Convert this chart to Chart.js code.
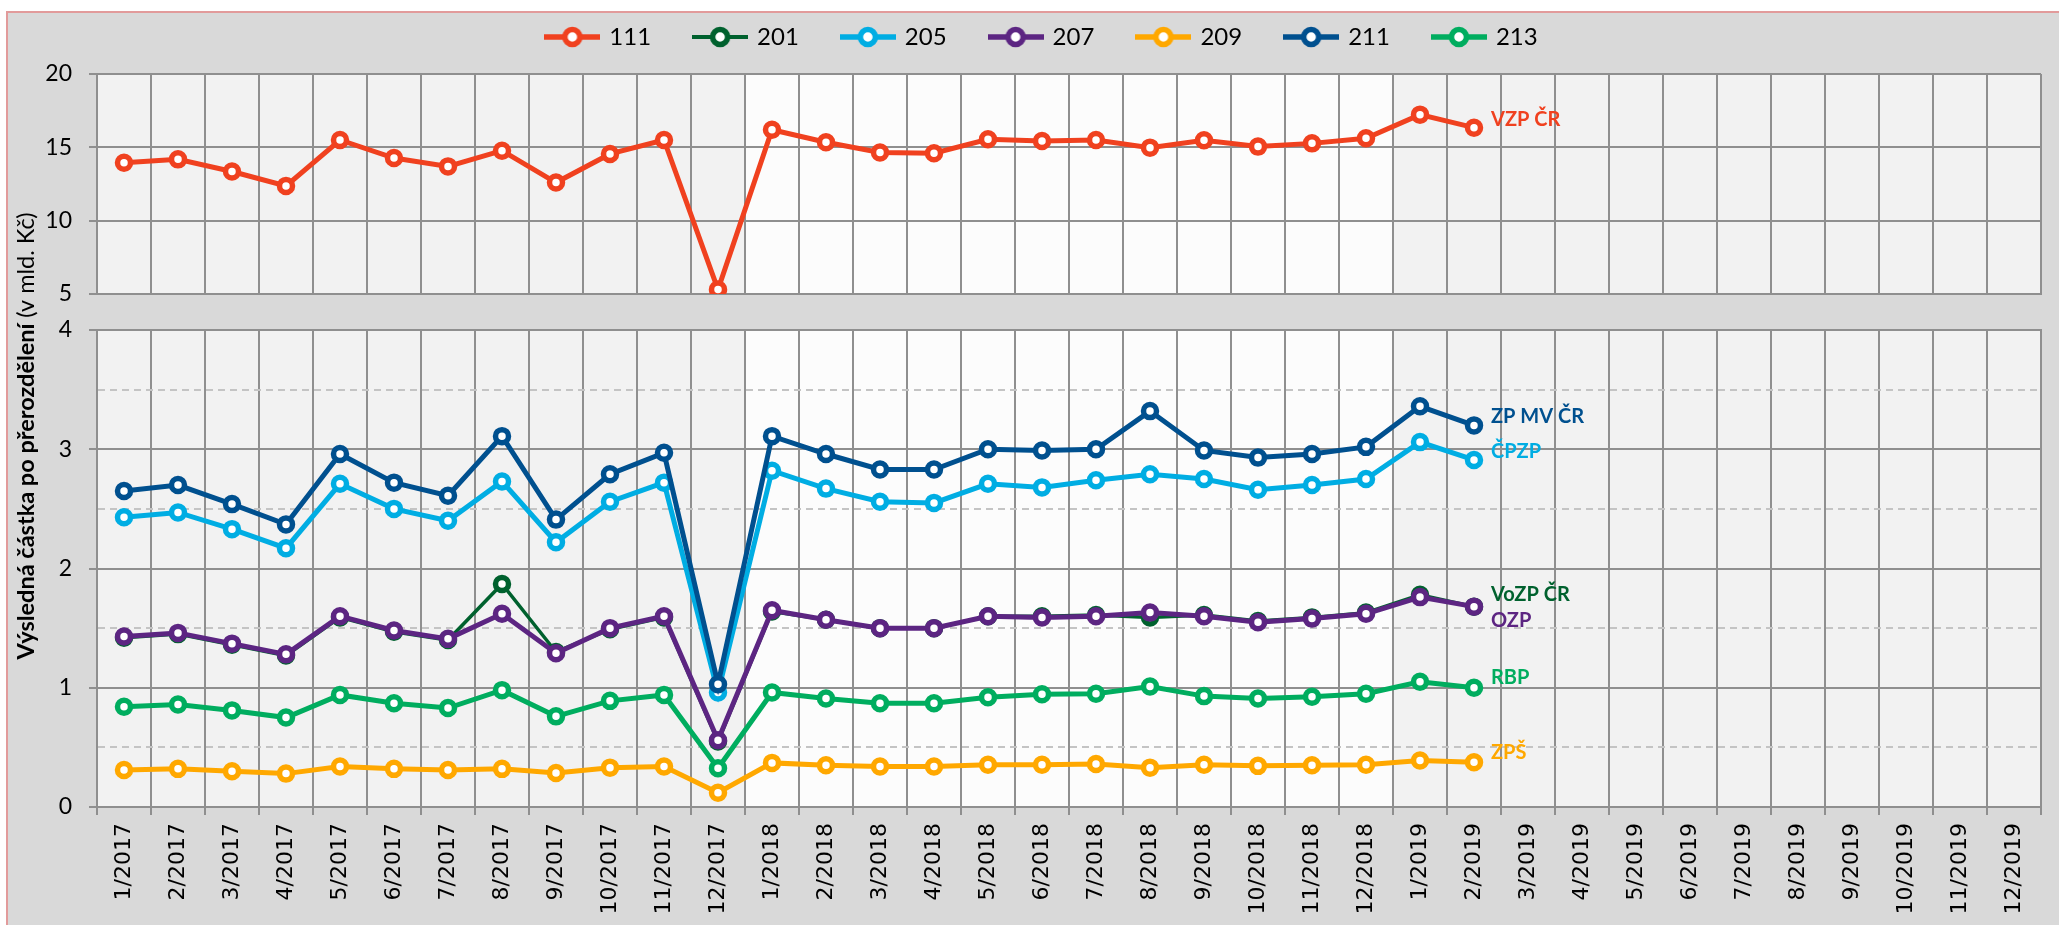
<!DOCTYPE html>
<html>
<head>
<meta charset="utf-8">
<script src="https://cdn.jsdelivr.net/npm/chart.js@4.4.1/dist/chart.umd.min.js"></script>
<style>
  html, body { margin: 0; padding: 0; background: #fff; }
  canvas { display: block; }
</style>
</head>
<body>
<canvas id="chart" width="2059" height="925"></canvas>
<script>
const months = ['1/2017', '2/2017', '3/2017', '4/2017', '5/2017', '6/2017', '7/2017', '8/2017', '9/2017', '10/2017', '11/2017', '12/2017',
                '1/2018', '2/2018', '3/2018', '4/2018', '5/2018', '6/2018', '7/2018', '8/2018', '9/2018', '10/2018', '11/2018', '12/2018',
                '1/2019', '2/2019', '3/2019', '4/2019', '5/2019', '6/2019', '7/2019', '8/2019', '9/2019', '10/2019', '11/2019', '12/2019'];

// values in bn CZK, Jan 2017 .. Feb 2019
const vzp111 = [13.95, 14.18, 13.35, 12.37, 15.5, 14.27, 13.7, 14.77, 12.6, 14.55, 15.5, 5.3,
                16.2, 15.35, 14.65, 14.6, 15.55, 15.43, 15.5, 14.98, 15.48, 15.05, 15.27, 15.62, 17.23, 16.34];
const vozp201 = [1.42, 1.45, 1.36, 1.27, 1.59, 1.47, 1.40, 1.87, 1.30, 1.49, 1.59, 0.55,
                 1.64, 1.57, 1.50, 1.50, 1.60, 1.60, 1.61, 1.59, 1.61, 1.56, 1.59, 1.63, 1.78, 1.68];
const cpzp205 = [2.43, 2.47, 2.33, 2.17, 2.71, 2.50, 2.40, 2.73, 2.22, 2.56, 2.72, 0.96,
                 2.82, 2.67, 2.56, 2.55, 2.71, 2.68, 2.74, 2.79, 2.75, 2.66, 2.70, 2.75, 3.06, 2.91];
const ozp207 = [1.43, 1.46, 1.37, 1.28, 1.60, 1.48, 1.41, 1.62, 1.29, 1.50, 1.60, 0.56,
                1.65, 1.57, 1.50, 1.50, 1.60, 1.59, 1.60, 1.63, 1.60, 1.55, 1.58, 1.62, 1.76, 1.68];
const zps209 = [0.31, 0.32, 0.30, 0.28, 0.34, 0.32, 0.31, 0.32, 0.285, 0.33, 0.34, 0.12,
                0.37, 0.35, 0.34, 0.34, 0.355, 0.355, 0.36, 0.33, 0.355, 0.345, 0.35, 0.355, 0.39, 0.375];
const zpmv211 = [2.65, 2.70, 2.54, 2.37, 2.96, 2.72, 2.61, 3.11, 2.41, 2.79, 2.97, 1.03,
                 3.11, 2.96, 2.83, 2.83, 3.00, 2.99, 3.00, 3.32, 2.99, 2.93, 2.96, 3.02, 3.36, 3.20];
const rbp213 = [0.84, 0.86, 0.81, 0.75, 0.94, 0.87, 0.83, 0.98, 0.76, 0.89, 0.94, 0.325,
                0.96, 0.91, 0.87, 0.87, 0.92, 0.945, 0.95, 1.01, 0.93, 0.91, 0.925, 0.95, 1.05, 1.00];

const codes = ['111', '201', '205', '207', '209', '211', '213'];
const names = ['VZP ČR', 'VoZP ČR', 'ČPZP', 'OZP', 'ZPŠ', 'ZP MV ČR', 'RBP'];

const gridGrey = '#8f8f8f';
const isHalf = c => c.tick && !Number.isInteger(c.tick.value);

function line(i, data, color, axis, width, dy) {
  return {
    label: codes[i],
    data: data,
    tag: names[i],
    tagDy: dy,
    yAxisID: axis,
    order: codes.length - i, // later series on top, like the original
    borderColor: color,
    backgroundColor: color,
    borderWidth: width,
    tension: 0,
    pointRadius: 6.5,
    pointHoverRadius: 6.5,
    pointBorderWidth: 5.5,
    pointBackgroundColor: '#ffffff',
    pointBorderColor: color
  };
}

function legendIcon(ds) {
  const c = document.createElement('canvas');
  c.width = 56; c.height = 24;
  const g = c.getContext('2d');
  g.strokeStyle = ds.borderColor;
  g.lineWidth = ds.borderWidth + 0.5;
  g.beginPath(); g.moveTo(0, 12); g.lineTo(56, 12); g.stroke();
  g.lineWidth = 5.5;
  g.fillStyle = '#fff';
  g.beginPath(); g.arc(28, 12, 7.5, 0, Math.PI * 2); g.fill(); g.stroke();
  return c;
}

const panels = {
  id: 'panels',
  beforeDraw(chart) {
    const {ctx, chartArea: a, scales: {x, yTop, yBot}} = chart;
    ctx.save();
    ctx.fillStyle = '#fff';
    ctx.fillRect(0, 0, chart.width, chart.height);
    ctx.fillStyle = '#d9d9d9';
    ctx.fillRect(6, 11, chart.width - 6, chart.height - 11);
    ctx.strokeStyle = '#e29b9b';
    ctx.lineWidth = 2;
    ctx.beginPath(); ctx.moveTo(7, chart.height); ctx.lineTo(7, 12); ctx.lineTo(chart.width, 12); ctx.stroke();
    // 2018 columns are lighter
    const half = (x.getPixelForValue(1) - x.getPixelForValue(0)) / 2;
    const x0 = x.getPixelForValue(12) - half, x1 = x.getPixelForValue(23) + half;
    [yTop, yBot].forEach(s => {
      ctx.fillStyle = '#f2f2f2';
      ctx.fillRect(a.left, s.top, a.right - a.left, s.bottom - s.top);
      ctx.fillStyle = '#fcfcfc';
      ctx.fillRect(x0, s.top, x1 - x0, s.bottom - s.top);
    });
    ctx.restore();
  },
  beforeDatasetsDraw(chart) {
    // gap between the two panels
    const {ctx, chartArea: a, scales: {yTop, yBot}} = chart;
    ctx.save();
    ctx.fillStyle = '#d9d9d9';
    ctx.fillRect(a.left - 1, yTop.bottom + 1, a.right - a.left + 2, yBot.top - yTop.bottom - 2);
    ctx.restore();
  }
};

const legendTweak = {
  id: 'legendTweak',
  afterInit(chart) {
    const lg = chart.legend, fit = lg.fit;
    lg.fit = function () { fit.call(this); this.height = 74; };
  },
  afterLayout(chart) {
    const lg = chart.legend;
    lg.top -= 19; lg.bottom -= 19;
    lg.left += 22; lg.right += 22;
  }
};

const endLabels = {
  id: 'endLabels',
  afterDatasetsDraw(chart) {
    const ctx = chart.ctx;
    ctx.save();
    ctx.font = 'bold 20px Lato';
    ctx.textBaseline = 'middle';
    chart.data.datasets.forEach((ds, i) => {
      const p = chart.getDatasetMeta(i).data[ds.data.length - 1];
      ctx.fillStyle = ds.borderColor;
      ctx.fillText(ds.tag, p.x + 17, p.y + ds.tagDy);
    });
    ctx.restore();
  }
};

const yTitle = {
  id: 'yTitle',
  afterDraw(chart) {
    const ctx = chart.ctx;
    const boldPart = 'Výsledná částka po přerozdělení ', normPart = '(v mld. Kč)';
    ctx.save();
    ctx.translate(26, 436);
    ctx.rotate(-Math.PI / 2);
    ctx.textBaseline = 'middle';
    ctx.fillStyle = '#000';
    ctx.font = 'bold 23.5px Lato';
    const w1 = ctx.measureText(boldPart).width;
    ctx.font = '23.5px Lato';
    const w2 = ctx.measureText(normPart).width;
    const x = -(w1 + w2) / 2;
    ctx.font = 'bold 23.5px Lato';
    ctx.fillText(boldPart, x, 0);
    ctx.font = '23.5px Lato';
    ctx.fillText(normPart, x + w1, 0);
    ctx.restore();
  }
};

const yTickFont = {family: 'Lato', size: 23};

const ctx = document.getElementById('chart').getContext('2d');
const chart = new Chart(ctx, {
  type: 'line',
  data: {
    labels: months,
    datasets: [
      line(0, vzp111, '#f0411f', 'yTop', 5, -8),
      line(1, vozp201, '#00612e', 'yBot', 3.5, -12),
      line(2, cpzp205, '#00ade3', 'yBot', 5, -8),
      line(3, ozp207, '#5c2582', 'yBot', 5, 14),
      line(4, zps209, '#ffa800', 'yBot', 5, -10),
      line(5, zpmv211, '#00508f', 'yBot', 5, -9),
      line(6, rbp213, '#00ad5f', 'yBot', 5, -10)
    ]
  },
  options: {
    responsive: false,
    animation: false,
    layout: {padding: {left: 0, right: 18, top: 0, bottom: 0}},
    scales: {
      x: {
        offset: true,
        grid: {offset: true, color: gridGrey, lineWidth: 2, tickLength: 8, tickColor: gridGrey, tickWidth: 2},
        border: {color: gridGrey, width: 2},
        ticks: {autoSkip: false, maxRotation: 90, minRotation: 90, padding: 8, color: '#000',
                font: {family: 'DejaVu Sans', size: 22}},
        afterFit: s => { s.height = 118; }
      },
      yBot: {
        type: 'linear', position: 'left', stack: 'panels', stackWeight: 477,
        min: 0, max: 4,
        ticks: {stepSize: 0.5, padding: 17, color: '#000', font: yTickFont,
                callback: v => Number.isInteger(v) ? v : ''},
        grid: {color: c => isHalf(c) ? '#c4c4c4' : gridGrey, lineWidth: 2, tickLength: 8,
               tickColor: c => isHalf(c) ? 'rgba(0,0,0,0)' : gridGrey, tickWidth: 2},
        border: {color: gridGrey, width: 2, dash: c => isHalf(c) ? [7, 5] : []},
        afterFit: s => { s.width = 97; }
      },
      yGap: {
        type: 'linear', position: 'left', stack: 'panels', stackWeight: 36,
        min: 0, max: 1,
        grid: {display: false},
        ticks: {display: false},
        border: {display: false},
        afterFit: s => { s.width = 97; }
      },
      yTop: {
        type: 'linear', position: 'left', stack: 'panels', stackWeight: 220,
        min: 5, max: 20,
        ticks: {stepSize: 5, padding: 17, color: '#000', font: yTickFont},
        grid: {color: gridGrey, lineWidth: 2, tickLength: 8, tickColor: gridGrey, tickWidth: 2},
        border: {color: gridGrey, width: 2},
        afterFit: s => { s.width = 97; }
      }
    },
    plugins: {
      legend: {
        position: 'top',
        labels: {
          usePointStyle: true,
          pointStyleWidth: 50,
          padding: 44,
          color: '#000',
          font: {family: 'Lato', size: 24},
          sort: (a, b) => a.datasetIndex - b.datasetIndex,
          generateLabels: c => Chart.defaults.plugins.legend.labels.generateLabels(c).map(l =>
            Object.assign(l, {pointStyle: legendIcon(c.data.datasets[l.datasetIndex])}))
        }
      },
      tooltip: {enabled: false}
    }
  },
  plugins: [panels, legendTweak, endLabels, yTitle]
});
</script>
</body>
</html>
